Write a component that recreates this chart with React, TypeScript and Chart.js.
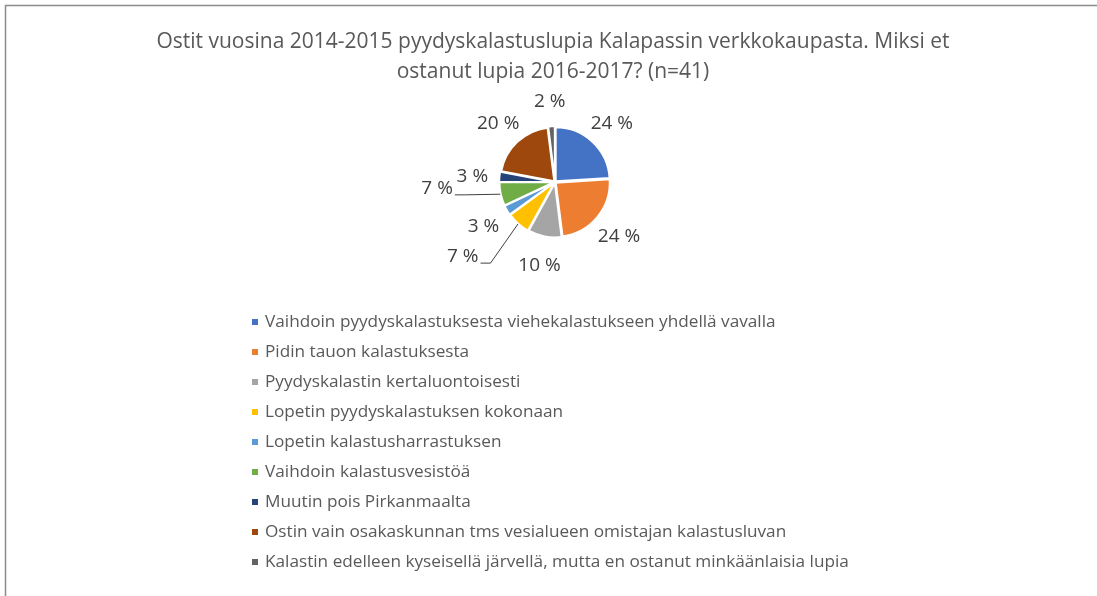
import React, { useEffect, useRef } from "react";
import { Chart, registerables } from "chart.js";

Chart.register(...registerables);

const titleLines = [
  "Ostit vuosina 2014-2015 pyydyskalastuslupia Kalapassin verkkokaupasta. Miksi et",
  "ostanut lupia 2016-2017? (n=41)",
];

const categories = [
  "Vaihdoin pyydyskalastuksesta viehekalastukseen yhdellä vavalla",
  "Pidin tauon kalastuksesta",
  "Pyydyskalastin kertaluontoisesti",
  "Lopetin pyydyskalastuksen kokonaan",
  "Lopetin kalastusharrastuksen",
  "Vaihdoin kalastusvesistöä",
  "Muutin pois Pirkanmaalta",
  "Ostin vain osakaskunnan tms vesialueen omistajan kalastusluvan",
  "Kalastin edelleen kyseisellä järvellä, mutta en ostanut minkäänlaisia lupia",
];

const values = [24, 24, 10, 7, 3, 7, 3, 20, 2];

const colors = [
  "#4472C4",
  "#ED7D31",
  "#A5A5A5",
  "#FFC000",
  "#5B9BD5",
  "#70AD47",
  "#264478",
  "#9E480E",
  "#636363",
];

// slices whose labels are pulled out with a leader line
const leaderSlices = [3, 5];

const FONT = '"Open Sans", sans-serif';

const framePlugin = {
  id: "frame",
  beforeDraw(chart: any) {
    const ctx = chart.ctx;
    ctx.save();
    ctx.fillStyle = "#ffffff";
    ctx.fillRect(0, 0, chart.width, chart.height);
    ctx.strokeStyle = "#8c8c8c";
    ctx.lineWidth = 1.5;
    ctx.beginPath();
    ctx.moveTo(5.5, chart.height);
    ctx.lineTo(5.5, 5.5);
    ctx.lineTo(chart.width, 5.5);
    ctx.stroke();
    ctx.restore();
  },
};

const titlePlugin = {
  id: "customTitle",
  afterDraw(chart: any) {
    const ctx = chart.ctx;
    ctx.save();
    ctx.fillStyle = "#595959";
    ctx.font = `21px ${FONT}`;
    ctx.textAlign = "center";
    ctx.textBaseline = "middle";
    titleLines.forEach((line, i) => {
      ctx.fillText(line, 553, 42 + i * 30);
    });
    ctx.restore();
  },
};

const legendPlugin = {
  id: "customLegend",
  afterDraw(chart: any) {
    const ctx = chart.ctx;
    const labels = chart.data.labels as string[];
    const bg = chart.data.datasets[0].backgroundColor as string[];
    ctx.save();
    ctx.font = `17.2px ${FONT}`;
    ctx.textBaseline = "middle";
    ctx.textAlign = "left";
    labels.forEach((label, i) => {
      const y = 322 + i * 30;
      ctx.fillStyle = bg[i];
      ctx.fillRect(252, y - 3, 6, 6);
      ctx.fillStyle = "#595959";
      ctx.fillText(label, 265, y);
    });
    ctx.restore();
  },
};

const labelPlugin = {
  id: "sliceLabels",
  afterDatasetsDraw(chart: any) {
    const ctx = chart.ctx;
    const meta = chart.getDatasetMeta(0);
    const data = chart.data.datasets[0].data as number[];
    ctx.save();
    ctx.font = `19px ${FONT}`;
    ctx.fillStyle = "#404040";
    ctx.textAlign = "center";
    ctx.textBaseline = "middle";
    meta.data.forEach((arc: any, i: number) => {
      const { x, y, startAngle, endAngle, outerRadius } = arc.getProps(
        ["x", "y", "startAngle", "endAngle", "outerRadius"],
        true
      );
      const mid = (startAngle + endAngle) / 2;
      const text = `${data[i]} %`;
      if (leaderSlices.includes(i)) {
        const a = mid + (10 * Math.PI) / 180;
        const d = outerRadius + 64;
        const lx = x + Math.cos(a) * d;
        const ly = y + Math.sin(a) * d + 1;
        ctx.fillText(text, lx, ly);
        const w = ctx.measureText(text).width;
        const right = lx + w / 2;
        const px = x + Math.cos(mid) * (outerRadius + 2);
        const py = y + Math.sin(mid) * (outerRadius + 2);
        ctx.strokeStyle = "#404040";
        ctx.lineWidth = 1;
        ctx.beginPath();
        ctx.moveTo(px, py);
        ctx.lineTo(right + 12, ly + 6.5);
        ctx.lineTo(right + 2, ly + 6.5);
        ctx.stroke();
      } else {
        const d = outerRadius + 29;
        ctx.fillText(text, x + Math.cos(mid) * d, y + Math.sin(mid) * d + 2);
      }
    });
    ctx.restore();
  },
};

export default function App() {
  const ref = useRef<HTMLCanvasElement | null>(null);
  useEffect(() => {
    if (!ref.current) return;
    const chart = new Chart(ref.current, {
      type: "pie",
      data: {
        labels: categories,
        datasets: [
          {
            data: values,
            backgroundColor: colors,
            borderColor: "#ffffff",
            borderWidth: 2,
            offset: 4,
          },
        ],
      },
      options: {
        responsive: false,
        animation: false,
        devicePixelRatio: 1,
        layout: {
          padding: { left: 498, right: 485, top: 125, bottom: 357 },
        },
        plugins: {
          legend: { display: false },
          title: { display: false },
          tooltip: { enabled: false },
        },
      },
      plugins: [framePlugin, titlePlugin, legendPlugin, labelPlugin],
    });
    return () => chart.destroy();
  }, []);
  return (
    <div style={{ position: "fixed", left: 0, top: 0, width: 1097, height: 596, background: "#fff" }}>
      <canvas ref={ref} width={1097} height={596} />
    </div>
  );
}
